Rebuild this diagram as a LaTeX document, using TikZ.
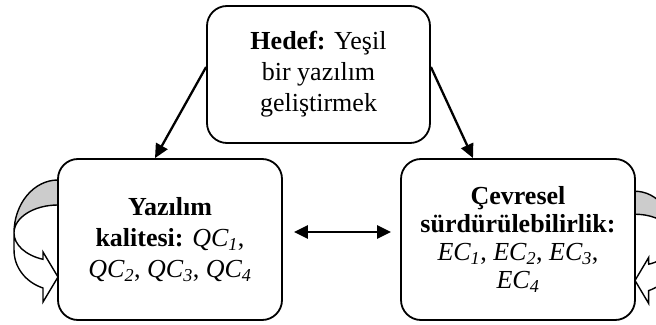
\documentclass[tikz,border=0pt]{standalone}
\usepackage{fontspec}
\setmainfont{Liberation Serif}
\usetikzlibrary{arrows.meta}
\tikzset{
>={Triangle[length=14pt,width=13pt]},
goalbox/.style={draw,line width=1.8pt,rounded corners=20pt,fill=white,align=center,font=\fontsize{26pt}{31pt}\selectfont},
link/.style={line width=2.3pt},
}
\providecommand{\TurnArrow}[2]{
\begin{scope}[shift={(#1)},#2,line width=1.4pt]
\filldraw[fill=black!20] (0,53) arc[start angle=90,end angle=180,x radius=44,y radius=53] arc[start angle=180,end angle=90,x radius=44,y radius=28] -- cycle;
\filldraw[fill=white] (-44,0) arc[start angle=180,end angle=250,x radius=44,y radius=28] -- (-15,-19) -- (0,-44) -- (-15,-69) -- (-15,-55) arc[start angle=250,end angle=180,x radius=44,y radius=40] -- cycle;
\end{scope}
}
\begin{document}
\begin{tikzpicture}[x=1pt,y=1pt]
\clip (0,0) rectangle (656,324);
\TurnArrow{58,91}{}
\TurnArrow{635,84}{xscale=-0.91,yscale=0.92}
\node[goalbox,minimum width=223pt,minimum height=137pt] (hedef) at (318.5,249.5) {\textbf{Hedef:} Yeşil\\bir yazılım\\geliştirmek};
\node[goalbox,minimum width=224pt,minimum height=161pt] (kalite) at (170,84.5) {\textbf{Yazılım}\\\textbf{kalitesi:} \textit{QC\textsubscript{1}},\\\textit{QC\textsubscript{2}}, \textit{QC\textsubscript{3}}, \textit{QC\textsubscript{4}}};
\node[goalbox,minimum width=234pt,minimum height=161pt,font=\fontsize{26pt}{28pt}\selectfont] (cevre) at (518,84.5) {\textbf{Çevresel}\\\textbf{sürdürülebilirlik:}\\\textit{EC\textsubscript{1}}, \textit{EC\textsubscript{2}}, \textit{EC\textsubscript{3}},\\\textit{EC\textsubscript{4}}};
\draw[link,->] ([yshift=7.5pt]hedef.west) -- ([xshift=-15pt]kalite.north);
\draw[link,->] ([yshift=7.5pt]hedef.east) -- ([xshift=-45pt]cevre.north);
\draw[link,<->] ([shift={(11pt,7.5pt)}]kalite.east) -- ([shift={(-9pt,7.5pt)}]cevre.west);
\end{tikzpicture}
\end{document}
